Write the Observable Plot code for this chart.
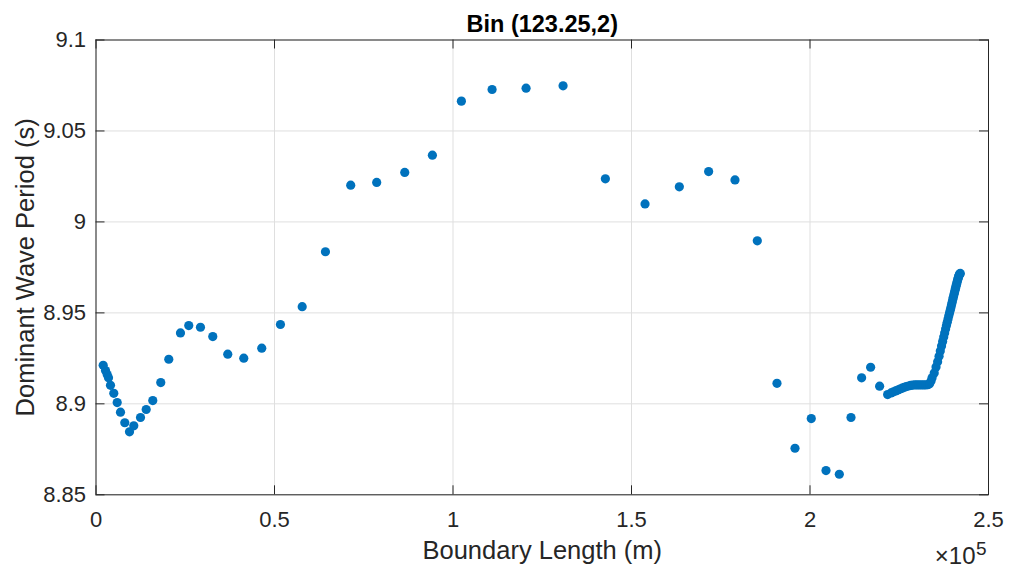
<!DOCTYPE html>
<html>
<head>
<meta charset="utf-8">
<script src="https://cdn.jsdelivr.net/npm/d3@7"></script>
<script src="https://cdn.jsdelivr.net/npm/@observablehq/plot@0.6"></script>
<style>
  html, body { margin: 0; padding: 0; background: #fff; }
  svg { display: block; }
</style>
</head>
<body>
<div id="chart"></div>
<script>
// Boundary length along the bin (m)
const boundaryLength = [
  2016, 2660, 3136, 3500, 4060, 4985, 5937, 6861, 8065, 9381,
  10585, 12462, 14058, 15906, 18146, 20387, 23663, 25987, 29264, 32713,
  36909, 41394, 46430, 51666, 57760, 64270, 71350, 78630, 86480, 94230,
  102350, 110950, 120470, 130830, 142680, 153790, 163400, 171610, 178990, 185240,
  190750, 195800, 200360, 204480, 208210, 211480, 214460, 216980, 219500, 221740,
  222700, 223400, 224000, 224600, 225200, 225800, 226400, 227000, 227600, 228200,
  228800, 229400, 230000, 230600, 231200, 231800, 232400, 233000, 233500, 233900,
  234200, 234800, 235300, 235750, 236150, 236500, 236850, 237150, 237450, 237720,
  237980, 238220, 238450, 238670, 238880, 239080, 239280, 239470, 239650, 239820,
  239990, 240150, 240310, 240460, 240610, 240750, 240890, 241030, 241160, 241290,
  241420, 241550, 241680, 241810, 241950, 242100
];

// Dominant wave period (s)
const wavePeriod = [
  8.9212, 8.9183, 8.9161, 8.9143, 8.9102, 8.9058, 8.9007, 8.8954, 8.8896, 8.8846,
  8.8879, 8.8925, 8.8969, 8.9018, 8.9117, 8.9245, 8.9390, 8.9430, 8.9421, 8.9370,
  8.9273, 8.9251, 8.9306, 8.9436, 8.9534, 8.9836, 9.0202, 9.0217, 9.0272, 9.0367,
  9.0664, 9.0728, 9.0735, 9.0748, 9.0237, 9.0099, 9.0193, 9.0277, 9.0231, 8.9896,
  8.9113, 8.8756, 8.8919, 8.8633, 8.8613, 8.8925, 8.9143, 8.9201, 8.9097, 8.9051,
  8.9060, 8.9066, 8.9071, 8.9076, 8.9081, 8.9086, 8.9091, 8.9095, 8.9098, 8.9101,
  8.9103, 8.9104, 8.9104, 8.9104, 8.9104, 8.9104, 8.9104, 8.9105, 8.9110, 8.9125,
  8.9143, 8.9170, 8.9203, 8.9232, 8.9262, 8.9290, 8.9318, 8.9342, 8.9367, 8.9390,
  8.9411, 8.9430, 8.9449, 8.9467, 8.9484, 8.9500, 8.9515, 8.9530, 8.9545, 8.9559,
  8.9573, 8.9586, 8.9599, 8.9611, 8.9623, 8.9634, 8.9645, 8.9656, 8.9666, 8.9676,
  8.9685, 8.9694, 8.9702, 8.9709, 8.9714, 8.9717
];

const xTicks = [0, 50000, 100000, 150000, 200000, 250000];
const xTickLabels = ["0", "0.5", "1", "1.5", "2", "2.5"];
const yTicks = [8.85, 8.9, 8.95, 9, 9.05, 9.1];
const yTickLabels = ["8.85", "8.9", "8.95", "9", "9.05", "9.1"];

const titleText = "Bin (123.25,2)";
const xLabel = "Boundary Length (m)";
const yLabel = "Dominant Wave Period (s)";
const exponentBase = "×10";
const exponentPower = "5";

const data = boundaryLength.map((x, i) => ({x, y: wavePeriod[i]}));

const W = 1010, H = 571;
const mL = 95.5, mR = 22, mT = 39.5, mB = 76.7;
const innerW = W - mL - mR, innerH = H - mT - mB;
const tickLen = 9;
const ink = "#262626";
const gridColor = "#dfdfdf";

const chart = Plot.plot({
  width: W,
  height: H,
  marginLeft: mL,
  marginRight: mR,
  marginTop: mT,
  marginBottom: mB,
  style: {
    fontFamily: "'Liberation Sans', Arial, Helvetica, sans-serif",
    background: "#ffffff",
    color: ink
  },
  x: {domain: [xTicks[0], xTicks[xTicks.length - 1]]},
  y: {domain: [yTicks[0], yTicks[yTicks.length - 1]]},
  marks: [
    Plot.gridX(xTicks, {stroke: gridColor, strokeOpacity: 1}),
    Plot.gridY(yTicks, {stroke: gridColor, strokeOpacity: 1}),
    // inward ticks on all four sides of the box
    Plot.tickX(xTicks, {x: d => d, insetTop: innerH - tickLen, stroke: ink}),
    Plot.tickX(xTicks, {x: d => d, insetBottom: innerH - tickLen, stroke: ink}),
    Plot.tickY(yTicks, {y: d => d, insetRight: innerW - tickLen, stroke: ink}),
    Plot.tickY(yTicks, {y: d => d, insetLeft: innerW - tickLen, stroke: ink}),
    Plot.axisX(xTicks, {
      tickSize: 0, tickPadding: 17, fontSize: 22, label: null,
      tickFormat: d => xTickLabels[xTicks.indexOf(d)]
    }),
    Plot.axisY(yTicks, {
      tickSize: 0, tickPadding: 10, fontSize: 22, label: null,
      tickFormat: d => yTickLabels[yTicks.indexOf(d)]
    }),
    Plot.dot(data, {x: "x", y: "y", r: 4.6, fill: "#0072BD", stroke: "none"}),
    Plot.frame({stroke: ink}),
    // title
    Plot.text([titleText], {
      text: d => d, frameAnchor: "top", lineAnchor: "middle", dy: -15.5,
      fontSize: 23.5, fontWeight: "bold", fill: "#000"
    }),
    // axis labels
    Plot.text([xLabel], {
      text: d => d, frameAnchor: "bottom", lineAnchor: "middle", dy: 56,
      fontSize: 25.5, fill: ink
    }),
    Plot.text([yLabel], {
      text: d => d, frameAnchor: "left", textAnchor: "middle", lineAnchor: "middle",
      dx: -70.5, rotate: -90, fontSize: 25.5, fill: ink
    }),
    // x-axis exponent
    Plot.text([exponentBase], {
      text: d => d, frameAnchor: "bottom-right", textAnchor: "end", lineAnchor: "middle",
      dx: -13, dy: 61.7, fontSize: 24, fill: ink
    }),
    Plot.text([exponentPower], {
      text: d => d, frameAnchor: "bottom-right", textAnchor: "start", lineAnchor: "middle",
      dx: -12.5, dy: 54.5, fontSize: 19, fill: ink
    })
  ]
});

document.getElementById("chart").appendChild(chart);
</script>
</body>
</html>
